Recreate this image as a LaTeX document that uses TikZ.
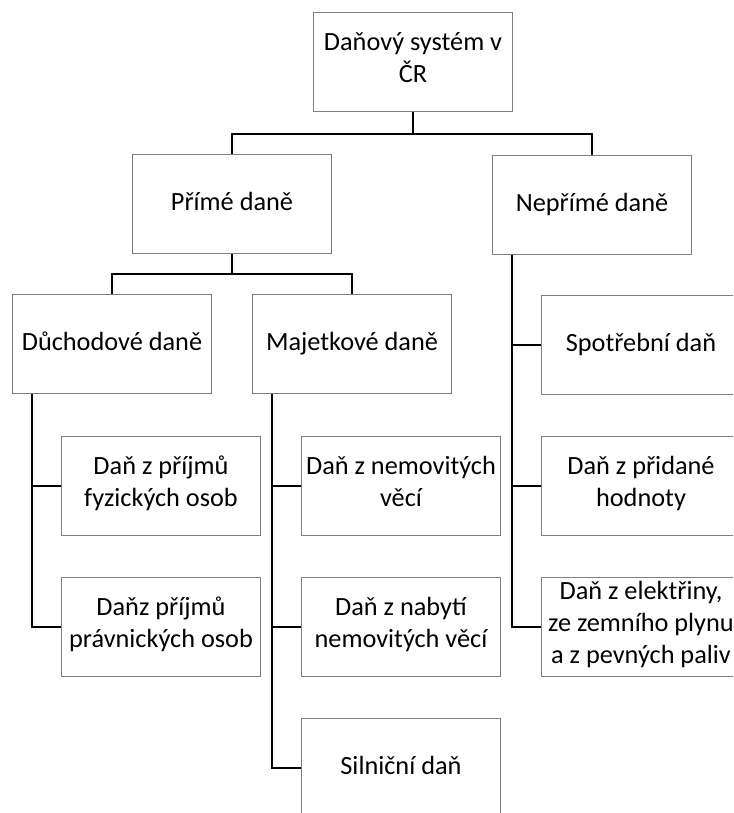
\documentclass[tikz,border=0pt]{standalone}
\usepackage{fontspec}
\setmainfont{Carlito}
\begin{document}
\begin{tikzpicture}[x=1pt,y=-1pt,
  box/.style={draw=black!50, line width=0.9pt, fill=white, minimum width=199pt, minimum height=99pt,
    inner sep=2pt, align=center, font=\fontsize{26.3}{32}\selectfont, text=black,
    execute at begin node=\strut, execute at end node=\strut},
  conn/.style={draw=black, line width=1.2pt}]
\clip (0,0) rectangle (733,813);
\useasboundingbox (0,0) rectangle (733,813);
\fill[white] (0,0) rectangle (733,813);

\node[box] (top) at (413,62) {Daňový systém v\\ČR};
\node[box] (prime) at (232,204) {Přímé daně};
\node[box] (neprime) at (592,205) {Nepřímé daně};
\node[box] (duch) at (112,344) {Důchodové daně};
\node[box] (maj) at (352,344) {Majetkové daně};
\node[box] (fyz) at (161,486) {Daň z příjmů\\fyzických osob};
\node[box] (prav) at (161,627) {Daňz příjmů\\právnických osob};
\node[box] (nem) at (401,486) {Daň z nemovitých\\věcí};
\node[box] (nab) at (401,627) {Daň z nabytí\\nemovitých věcí};
\node[box] (siln) at (401,768) {Silniční daň};
\node[box] (spot) at (641,345) {Spotřební daň};
\node[box] (dph) at (641,486) {Daň z přidané\\hodnoty};
\node[box] (elek) at (641,627) {Daň z elektřiny,\\ze zemního plynu\\a z pevných paliv};

\coordinate (j1) at (413,134);
\coordinate (j2) at (232,274);
\draw[conn] (top.south) -- (j1);
\draw[conn] (prime.north) |- (j1) -| (neprime.north);
\draw[conn] (prime.south) -- (j2);
\draw[conn] (duch.north) |- (j2) -| (maj.north);

\draw[conn] ([xshift=20pt]duch.south west) |- (fyz.west);
\draw[conn] ([xshift=20pt]duch.south west) |- (prav.west);
\draw[conn] ([xshift=20pt]maj.south west) |- (nem.west);
\draw[conn] ([xshift=20pt]maj.south west) |- (nab.west);
\draw[conn] ([xshift=20pt]maj.south west) |- (siln.west);
\draw[conn] ([xshift=20pt]neprime.south west) |- (spot.west);
\draw[conn] ([xshift=20pt]neprime.south west) |- (dph.west);
\draw[conn] ([xshift=20pt]neprime.south west) |- (elek.west);
\end{tikzpicture}
\end{document}
